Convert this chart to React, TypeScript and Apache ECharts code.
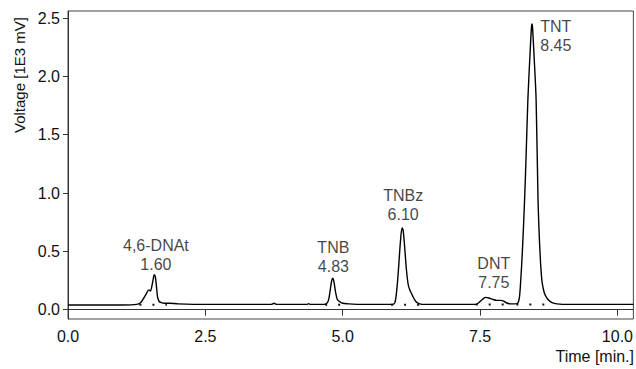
import React, { useEffect, useRef } from "react";
import * as echarts from "echarts";

// Chromatogram trace (time in min, voltage in 1E3 mV)
const traceTime = [
  0, 0.5, 1.0, 1.25, 1.32, 1.38, 1.43, 1.47, 1.5, 1.53, 1.55, 1.57, 1.59, 1.61, 1.63, 1.66, 1.7, 1.75, 1.85, 2.0,
  2.5, 3.0, 3.5, 3.7, 3.75, 3.8, 4.0, 4.35, 4.38, 4.41, 4.6, 4.7, 4.74, 4.77, 4.8, 4.82, 4.84, 4.87, 4.9, 4.94,
  5.0, 5.1, 5.3, 5.6, 5.9, 5.95, 5.99, 6.02, 6.05, 6.08, 6.1, 6.13, 6.16, 6.19, 6.22, 6.27, 6.33, 6.4, 6.5, 6.8,
  7.1, 7.4, 7.45, 7.5, 7.55, 7.6, 7.66, 7.72, 7.8, 7.88, 7.94, 8.0, 8.06, 8.12, 8.18, 8.2, 8.22, 8.24, 8.27, 8.31,
  8.34, 8.37, 8.41, 8.435, 8.445, 8.455, 8.48, 8.52, 8.555, 8.59, 8.625, 8.66, 8.69, 8.75, 8.81, 8.9, 9.1, 9.5, 10.0, 10.29,
];
const traceVolt = [
  0.04, 0.04, 0.04, 0.045, 0.06, 0.1, 0.14, 0.17, 0.16, 0.21, 0.26, 0.3, 0.28, 0.2, 0.11, 0.07, 0.06, 0.055, 0.055, 0.05,
  0.045, 0.045, 0.045, 0.045, 0.055, 0.045, 0.045, 0.045, 0.052, 0.045, 0.045, 0.05, 0.08, 0.16, 0.25, 0.27, 0.24, 0.15, 0.09, 0.07,
  0.055, 0.05, 0.045, 0.045, 0.045, 0.06, 0.2, 0.38, 0.58, 0.7, 0.68, 0.52, 0.34, 0.22, 0.17, 0.12, 0.07, 0.05, 0.045, 0.045,
  0.045, 0.045, 0.05, 0.07, 0.09, 0.105, 0.1, 0.09, 0.08, 0.08, 0.07, 0.055, 0.05, 0.05, 0.055, 0.07, 0.12, 0.25, 0.5, 0.94,
  1.35, 1.8, 2.2, 2.42, 2.45, 2.42, 2.2, 1.8, 0.94, 0.5, 0.25, 0.16, 0.12, 0.08, 0.06, 0.05, 0.045, 0.045, 0.045, 0.045,
];

// Integration baselines under the peaks: [start, end, level]
const baselineStart = [1.3, 4.68, 5.88, 7.42, 8.16];
const baselineEnd = [1.8, 5.02, 6.45, 8.12, 8.85];
const baselineLevel = [0.042, 0.042, 0.042, 0.045, 0.045];

// Peak annotations
const peakNames = ["4,6-DNAt", "TNB", "TNBz", "DNT", "TNT"];
const peakTimes = [1.6, 4.83, 6.1, 7.75, 8.45];
const peakTimeLabels = ["1.60", "4.83", "6.10", "7.75", "8.45"];
const peakTops = [0.3, 0.28, 0.725, 0.14, 2.35];

const xTicks = [0, 2.5, 5, 7.5, 10];
const yTicks = [0, 0.5, 1, 1.5, 2, 2.5];

const FONT = "'Liberation Sans', Arial, sans-serif";

export default function App() {
  const ref = useRef<HTMLDivElement>(null);
  useEffect(() => {
    document.body.style.margin = "0";
    const chart = echarts.init(ref.current!, undefined, { renderer: "svg" });
    const trace = traceTime.map((t, i) => [t, traceVolt[i]]);
    const base: any[] = [];
    baselineStart.forEach((s, i) => {
      base.push([s, baselineLevel[i]]);
      base.push([baselineEnd[i], baselineLevel[i]]);
      base.push([baselineEnd[i], null]);
    });
    const labelData = peakNames.map((n, i) => ({
      value: [peakTimes[i], peakTops[i]],
      name: n,
      label:
        n === "TNT"
          ? { position: "right", distance: 8, align: "left" }
          : { position: "top", distance: 1, align: "center" },
    }));
    chart.setOption({
      animation: false,
      grid: { left: 68, right: 1, top: 11, bottom: 50, show: true, borderColor: "#444", borderWidth: 1 },
      xAxis: {
        type: "value",
        min: 0,
        max: 10.29,
        axisLine: { show: true, lineStyle: { color: "#333", width: 1 } },
        axisTick: { show: true, length: 6, customValues: xTicks, lineStyle: { color: "#333" } },
        axisLabel: {
          customValues: xTicks,
          formatter: (v: number) => v.toFixed(1),
          color: "#111",
          fontSize: 16,
          fontFamily: FONT,
          margin: 9,
        },
        splitLine: { show: false },
      },
      yAxis: {
        type: "value",
        min: -0.08,
        max: 2.56,
        axisLine: { show: true, lineStyle: { color: "#333", width: 1 } },
        axisTick: { show: true, length: 5, customValues: yTicks, lineStyle: { color: "#333" } },
        axisLabel: {
          customValues: yTicks,
          formatter: (v: number) => v.toFixed(1),
          color: "#111",
          fontSize: 16,
          fontFamily: FONT,
          margin: 8,
        },
        splitLine: { show: false },
      },
      graphic: [
        {
          type: "text",
          x: 19,
          y: 133,
          rotation: Math.PI / 2,
          style: {
            text: "Voltage [1E3 mV]",
            fill: "#111",
            font: `15px ${FONT}`,
            align: "left",
            verticalAlign: "middle",
          },
        },
        {
          type: "text",
          x: 634,
          y: 356,
          style: {
            text: "Time [min.]",
            fill: "#111",
            font: `16px ${FONT}`,
            align: "right",
            verticalAlign: "middle",
          },
        },
      ],
      series: [
        {
          type: "line",
          data: base,
          showSymbol: false,
          connectNulls: false,
          lineStyle: { color: "#111", width: 2, type: [2, 11] },
          z: 1,
        },
        {
          type: "line",
          data: trace,
          showSymbol: false,
          smooth: 0.3,
          lineStyle: { color: "#000", width: 1.4 },
          z: 2,
        },
        {
          type: "scatter",
          data: labelData,
          symbolSize: 0,
          label: {
            show: true,
            formatter: (p: any) => `${p.name}\n${peakTimeLabels[p.dataIndex]}`,
            color: "#111",
            fontSize: 16,
            fontFamily: FONT,
            lineHeight: 19,
          },
          z: 3,
        },
      ],
    });
    return () => chart.dispose();
  }, []);
  return <div ref={ref} style={{ width: 636, height: 369 }} />;
}
